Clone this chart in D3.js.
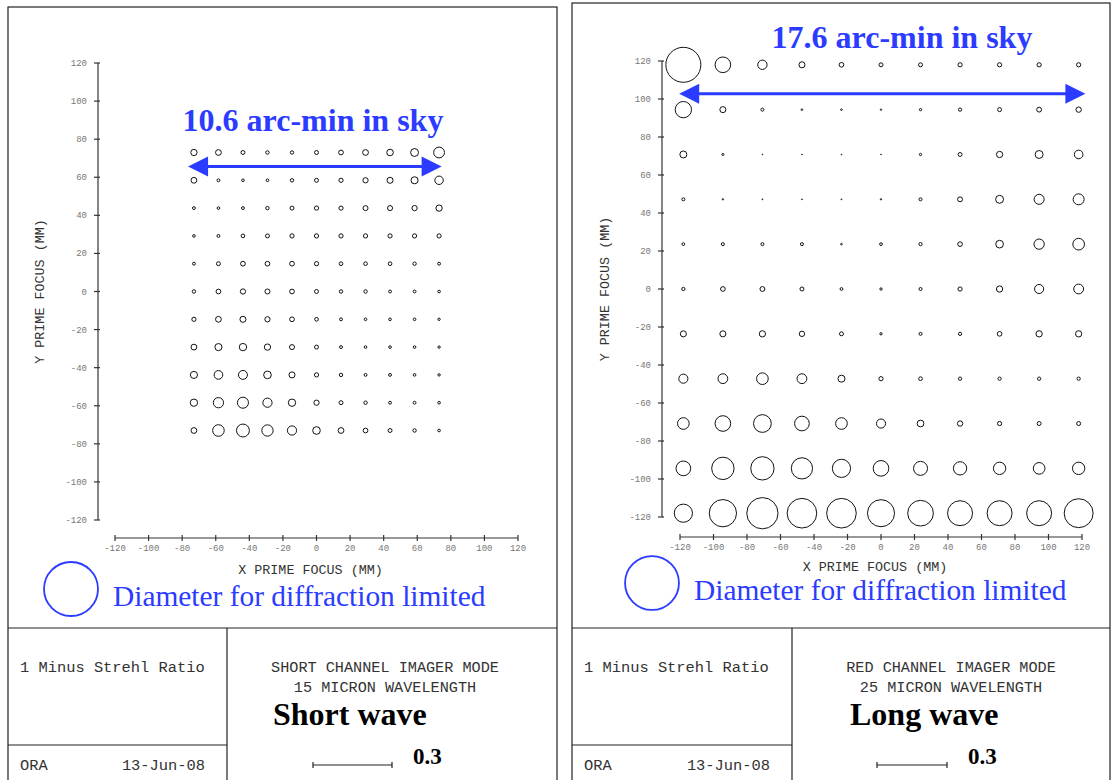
<!DOCTYPE html>
<html><head><meta charset="utf-8">
<script src="https://cdn.jsdelivr.net/npm/d3@7"></script>
<style>body{margin:0;background:#fff}svg{display:block}</style>
</head><body><svg id="chart" width="1111" height="780"></svg>
<script>
// Field points at prime focus (mm)
const shortX = [-73, -58.4, -43.8, -29.2, -14.6, 0, 14.6, 29.2, 43.8, 58.4, 73];
const shortY = [73, 58.4, 43.8, 29.2, 14.6, 0, -14.6, -29.2, -43.8, -58.4, -73];
const longX = [-118, -94.4, -70.8, -47.2, -23.6, 0, 23.6, 47.2, 70.8, 94.4, 118];
const longY = [118, 94.4, 70.8, 47.2, 23.6, 0, -23.6, -47.2, -70.8, -94.4, -118];

// 1 - Strehl ratio, one row per Y position (top to bottom), columns follow X
const shortValues = [
  [0.024, 0.022, 0.015, 0.013, 0.013, 0.015, 0.018, 0.022, 0.025, 0.030, 0.041],
  [0.022, 0.011, 0.010, 0.010, 0.013, 0.015, 0.016, 0.020, 0.023, 0.027, 0.032],
  [0.011, 0.010, 0.011, 0.013, 0.015, 0.016, 0.016, 0.019, 0.019, 0.020, 0.024],
  [0.010, 0.011, 0.014, 0.015, 0.016, 0.016, 0.016, 0.016, 0.016, 0.016, 0.016],
  [0.011, 0.015, 0.018, 0.018, 0.018, 0.016, 0.014, 0.014, 0.014, 0.013, 0.011],
  [0.013, 0.018, 0.020, 0.019, 0.018, 0.015, 0.013, 0.013, 0.011, 0.011, 0.010],
  [0.016, 0.022, 0.023, 0.020, 0.018, 0.014, 0.011, 0.010, 0.010, 0.010, 0.009],
  [0.022, 0.027, 0.028, 0.024, 0.019, 0.015, 0.011, 0.010, 0.010, 0.010, 0.009],
  [0.027, 0.033, 0.034, 0.029, 0.023, 0.016, 0.013, 0.011, 0.011, 0.010, 0.009],
  [0.028, 0.039, 0.042, 0.035, 0.028, 0.020, 0.015, 0.013, 0.011, 0.011, 0.010],
  [0.022, 0.044, 0.049, 0.043, 0.035, 0.029, 0.022, 0.018, 0.015, 0.013, 0.010]
];
const longValues = [
  [0.150, 0.067, 0.040, 0.026, 0.020, 0.017, 0.017, 0.018, 0.018, 0.018, 0.018],
  [0.070, 0.026, 0.013, 0.007, 0.007, 0.006, 0.010, 0.014, 0.017, 0.021, 0.023],
  [0.030, 0.009, 0.003, 0.003, 0.003, 0.003, 0.010, 0.017, 0.027, 0.034, 0.037],
  [0.013, 0.006, 0.004, 0.004, 0.004, 0.006, 0.013, 0.021, 0.034, 0.043, 0.047],
  [0.012, 0.013, 0.013, 0.013, 0.007, 0.012, 0.014, 0.020, 0.033, 0.044, 0.050],
  [0.014, 0.020, 0.021, 0.017, 0.012, 0.010, 0.013, 0.018, 0.027, 0.039, 0.042],
  [0.026, 0.026, 0.027, 0.023, 0.017, 0.010, 0.013, 0.014, 0.020, 0.027, 0.027],
  [0.039, 0.042, 0.050, 0.042, 0.030, 0.018, 0.016, 0.014, 0.014, 0.014, 0.014],
  [0.050, 0.067, 0.076, 0.063, 0.050, 0.039, 0.029, 0.023, 0.018, 0.017, 0.017],
  [0.063, 0.096, 0.100, 0.091, 0.078, 0.067, 0.060, 0.057, 0.053, 0.050, 0.053],
  [0.078, 0.117, 0.134, 0.127, 0.127, 0.116, 0.110, 0.107, 0.107, 0.107, 0.124]
];

const axisTicks = [-120, -100, -80, -60, -40, -20, 0, 20, 40, 60, 80, 100, 120];
const barValue = 0.3;
const diffractionLimit = [0.205, 0.231];   // short, long
const fieldSpan = ["10.6 arc-min in sky", "17.6 arc-min in sky"];
const modeLines = [
  ["SHORT CHANNEL IMAGER MODE", "15 MICRON WAVELENGTH"],
  ["RED CHANNEL IMAGER MODE", "25 MICRON WAVELENGTH"]
];
const bandNames = ["Short wave", "Long wave"];

const BLUE = "#2b3bff";
const MONO = "'Liberation Mono', 'Courier New', monospace";
const SERIF = "'Liberation Serif', 'Times New Roman', serif";

const svg = d3.select("#chart");

function drawPanel(p) {
  const g = svg.append("g");

  // drawing frame and title block
  const frame = g.append("g").attr("fill", "none").attr("stroke", "#222").attr("stroke-width", 1.2);
  frame.append("rect").attr("x", p.frame[0]).attr("y", p.frame[1])
    .attr("width", p.frame[2] - p.frame[0]).attr("height", 800 - p.frame[1]);
  frame.append("line").attr("x1", p.frame[0]).attr("x2", p.frame[2]).attr("y1", 628).attr("y2", 628);
  frame.append("line").attr("x1", p.blockX).attr("x2", p.blockX).attr("y1", 628).attr("y2", 800);
  frame.append("line").attr("x1", p.frame[0]).attr("x2", p.blockX).attr("y1", 745).attr("y2", 745);

  const x = d3.scaleLinear().domain([-120, 120]).range(p.xRange);
  const y = d3.scaleLinear().domain([-120, 120]).range(p.yRange);
  const diam = d3.scaleLinear().domain([0, barValue]).range([0, p.barPx]);

  // Y axis
  const ya = g.append("g");
  ya.append("line").attr("x1", p.yAxisX).attr("x2", p.yAxisX)
    .attr("y1", y(-120)).attr("y2", y(120)).attr("stroke", "#333").attr("stroke-width", 1.2);
  ya.selectAll("line.t").data(axisTicks).join("line").attr("class", "t")
    .attr("x1", p.yAxisX - 4).attr("x2", p.yAxisX + 2)
    .attr("y1", d => y(d)).attr("y2", d => y(d)).attr("stroke", "#333").attr("stroke-width", 1.2);
  ya.selectAll("text").data(axisTicks).join("text")
    .attr("x", p.yAxisX - 11).attr("y", d => y(d) + 3)
    .attr("text-anchor", "end").attr("font-family", MONO).attr("font-size", 9)
    .attr("fill", "#777").text(d => d);

  // X axis
  const xa = g.append("g");
  xa.append("line").attr("y1", p.xAxisY).attr("y2", p.xAxisY)
    .attr("x1", x(-120)).attr("x2", x(120)).attr("stroke", "#333").attr("stroke-width", 1.2);
  xa.selectAll("line.t").data(axisTicks).join("line").attr("class", "t")
    .attr("y1", p.xAxisY - 3).attr("y2", p.xAxisY + 3)
    .attr("x1", d => x(d)).attr("x2", d => x(d)).attr("stroke", "#333").attr("stroke-width", 1.2);
  xa.selectAll("text").data(axisTicks).join("text")
    .attr("x", d => x(d)).attr("y", p.xAxisY + 13)
    .attr("text-anchor", "middle").attr("font-family", MONO).attr("font-size", 9)
    .attr("fill", "#777").text(d => d);

  // axis titles
  g.append("text").attr("x", x(0) - 6).attr("y", p.xAxisY + p.xTitleDy)
    .attr("text-anchor", "middle").attr("font-family", MONO).attr("font-size", 13.4)
    .attr("fill", "#333").text("X PRIME FOCUS (MM)");
  g.append("text").attr("transform", `translate(${p.yTitleX},${y(0)}) rotate(-90)`)
    .attr("text-anchor", "middle").attr("font-family", MONO).attr("font-size", 13.4)
    .attr("fill", "#333").text("Y PRIME FOCUS (MM)");

  // spot grid: circle diameter proportional to 1 - Strehl
  const pts = [];
  p.values.forEach((row, i) => row.forEach((v, j) => pts.push({ x: p.xs[j], y: p.ys[i], v })));
  g.append("g").selectAll("circle").data(pts).join("circle")
    .attr("cx", d => x(d.x)).attr("cy", d => y(d.y))
    .attr("r", d => Math.max(diam(d.v) / 2, 0.4))
    .attr("fill", "none").attr("stroke", "#111").attr("stroke-width", 1);

  // field width annotation
  const ay = y(p.arrowY);
  const ax0 = x(p.arrowX[0]), ax1 = x(p.arrowX[1]);
  const head = 20, half = 10;
  g.append("line").attr("x1", ax0 + head - 2).attr("x2", ax1 - head + 2)
    .attr("y1", ay).attr("y2", ay).attr("stroke", BLUE).attr("stroke-width", 3);
  g.append("path").attr("fill", BLUE)
    .attr("d", `M${ax0},${ay}L${ax0 + head},${ay - half}L${ax0 + head},${ay + half}Z`);
  g.append("path").attr("fill", BLUE)
    .attr("d", `M${ax1},${ay}L${ax1 - head},${ay - half}L${ax1 - head},${ay + half}Z`);
  g.append("text").attr("x", p.titleX).attr("y", p.titleY)
    .attr("text-anchor", "middle").attr("font-family", SERIF).attr("font-weight", "bold")
    .attr("font-size", 32).attr("fill", BLUE).text(p.span);

  // diffraction-limited reference circle
  g.append("circle").attr("cx", p.legend[0]).attr("cy", p.legend[1])
    .attr("r", diam(p.diffLimit) / 2).attr("fill", "none")
    .attr("stroke", BLUE).attr("stroke-width", 1.8);
  g.append("text").attr("x", p.legend[0] + 42).attr("y", p.legend[1] + 17)
    .attr("font-family", SERIF).attr("font-size", 29.4).attr("fill", BLUE)
    .text("Diameter for diffraction limited");

  // title block text
  const bx = p.frame[0];
  g.append("text").attr("x", bx + 12).attr("y", 672).attr("font-family", MONO)
    .attr("font-size", 15.4).attr("fill", "#333").text("1 Minus Strehl Ratio");
  g.append("text").attr("x", bx + 12).attr("y", 770).attr("font-family", MONO)
    .attr("font-size", 15.4).attr("fill", "#333").text("ORA");
  g.append("text").attr("x", p.blockX - 22).attr("y", 770).attr("text-anchor", "end")
    .attr("font-family", MONO).attr("font-size", 15.4).attr("fill", "#333").text("13-Jun-08");
  g.append("text").attr("x", p.modeX).attr("y", 672).attr("text-anchor", "middle")
    .attr("font-family", MONO).attr("font-size", 15.2).attr("fill", "#333").text(p.mode[0]);
  g.append("text").attr("x", p.modeX).attr("y", 692).attr("text-anchor", "middle")
    .attr("font-family", MONO).attr("font-size", 15.2).attr("fill", "#333").text(p.mode[1]);
  g.append("text").attr("x", p.bandX).attr("y", 725)
    .attr("font-family", SERIF).attr("font-weight", "bold").attr("font-size", 32)
    .attr("fill", "#000").text(p.band);

  // scale bar for the spot diameters
  const sb = g.append("g").attr("stroke", "#222").attr("stroke-width", 1.2);
  const bl = diam(barValue);
  sb.append("line").attr("x1", p.barX).attr("x2", p.barX + bl).attr("y1", 765).attr("y2", 765);
  sb.append("line").attr("x1", p.barX).attr("x2", p.barX).attr("y1", 762).attr("y2", 768);
  sb.append("line").attr("x1", p.barX + bl).attr("x2", p.barX + bl).attr("y1", 762).attr("y2", 768);
  g.append("text").attr("x", p.barX + bl + 21).attr("y", 764)
    .attr("font-family", SERIF).attr("font-weight", "bold").attr("font-size", 23)
    .attr("fill", "#000").text(barValue);
}

drawPanel({
  frame: [8, 7, 557], blockX: 227,
  xRange: [115, 518], yRange: [520, 63], xAxisY: 538, yAxisX: 98, yTitleX: 44, xTitleDy: 36,
  xs: shortX, ys: shortY, values: shortValues,
  barPx: 79, barX: 313,
  arrowX: [-76.5, 74.5], arrowY: 65.6,
  titleX: 313, titleY: 131, span: fieldSpan[0],
  legend: [71, 589], diffLimit: diffractionLimit[0],
  mode: modeLines[0], modeX: 385, band: bandNames[0], bandX: 273
});
drawPanel({
  frame: [572, 3, 1110], blockX: 792,
  xRange: [680, 1082], yRange: [517, 61], xAxisY: 537, yAxisX: 662, yTitleX: 609, xTitleDy: 34,
  xs: longX, ys: longY, values: longValues,
  barPx: 70, barX: 877,
  arrowX: [-120.5, 122], arrowY: 102.8,
  titleX: 902, titleY: 48, span: fieldSpan[1],
  legend: [652, 583], diffLimit: diffractionLimit[1],
  mode: modeLines[1], modeX: 951, band: bandNames[1], bandX: 850
});
</script></body></html>
